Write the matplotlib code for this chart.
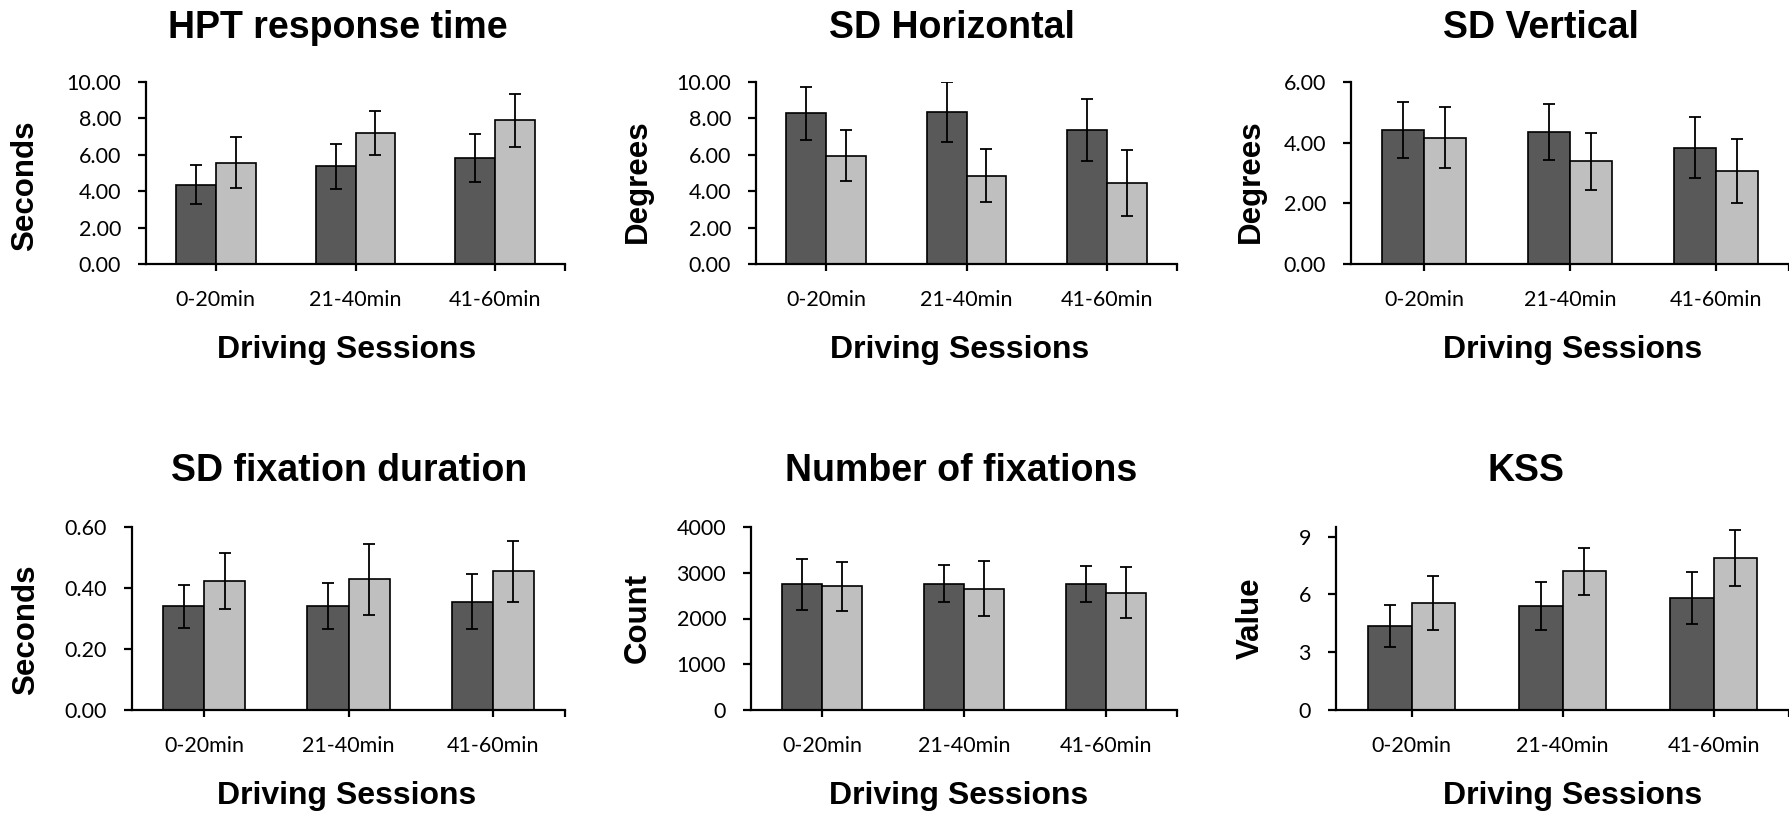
import matplotlib
matplotlib.use("Agg")
import matplotlib.pyplot as plt
from matplotlib.ticker import FixedLocator, FormatStrFormatter

# -----------------------------
# Data
# -----------------------------
sessions = ["0-20min", "21-40min", "41-60min"]

hpt_dark = [4.36, 5.38, 5.82]
hpt_dark_err = [1.07, 1.24, 1.34]
hpt_light = [5.57, 7.19, 7.89]
hpt_light_err = [1.40, 1.21, 1.46]

sdh_dark = [8.29, 8.36, 7.36]
sdh_dark_err = [1.45, 1.63, 1.69]
sdh_light = [5.96, 4.85, 4.45]
sdh_light_err = [1.40, 1.45, 1.81]

sdv_dark = [4.41, 4.35, 3.84]
sdv_dark_err = [0.93, 0.93, 1.02]
sdv_light = [4.17, 3.38, 3.07]
sdv_light_err = [0.99, 0.94, 1.06]

fix_dark = [0.340, 0.341, 0.355]
fix_dark_err = [0.071, 0.074, 0.091]
fix_light = [0.423, 0.429, 0.455]
fix_light_err = [0.091, 0.116, 0.100]

nfix_dark = [2750, 2765, 2750]
nfix_dark_err = [555, 415, 400]
nfix_light = [2705, 2655, 2565]
nfix_light_err = [540, 605, 555]

kss_dark = [4.36, 5.38, 5.82]
kss_dark_err = [1.07, 1.24, 1.34]
kss_light = [5.57, 7.19, 7.89]
kss_light_err = [1.40, 1.21, 1.46]

DARK = "#595959"
LIGHT = "#bfbfbf"
TITLE_FONT = "Liberation Sans"
TICK_FONT = "Lato"

W, H = 1789, 815
fig = plt.figure(figsize=(W / 100, H / 100), dpi=100)


def px_axes(left, top, right, bottom):
    return fig.add_axes([left / W, (H - bottom) / H, (right - left) / W, (bottom - top) / H])


def panel(box, dark, dark_err, light, light_err, yticks, ymax, fmt,
          title, title_xy, ylabel, ylabel_xy, xlabel_xy):
    ax = px_axes(*box)
    x = list(range(len(sessions)))
    bw = 0.285
    ax.bar([i - bw / 2 for i in x], dark, width=bw, color=DARK,
           edgecolor="black", linewidth=1.2, zorder=2)
    ax.bar([i + bw / 2 for i in x], light, width=bw, color=LIGHT,
           edgecolor="black", linewidth=1.2, zorder=2)
    ax.errorbar([i - bw / 2 for i in x], dark, yerr=dark_err, fmt="none",
                ecolor="black", elinewidth=1.3, capsize=4.5, capthick=1.3, zorder=3)
    ax.errorbar([i + bw / 2 for i in x], light, yerr=light_err, fmt="none",
                ecolor="black", elinewidth=1.3, capsize=4.5, capthick=1.3, zorder=3)

    ax.set_xlim(-0.5, 2.5)
    ax.set_ylim(0, ymax)
    ax.set_xticks(x)
    ax.set_xticklabels(sessions, fontfamily=TICK_FONT, fontsize=15.5)
    ax.xaxis.set_minor_locator(FixedLocator([2.5]))
    ax.set_yticks(yticks)
    ax.yaxis.set_major_formatter(FormatStrFormatter(fmt))
    for lab in ax.get_yticklabels():
        lab.set_fontfamily(TICK_FONT)
        lab.set_fontsize(15.5)

    for s in ["top", "right"]:
        ax.spines[s].set_visible(False)
    for s in ["left", "bottom"]:
        ax.spines[s].set_linewidth(1.6)
    ax.tick_params(axis="y", direction="out", length=6, width=1.6, pad=12)
    ax.tick_params(axis="x", which="both", direction="out", length=5, width=1.6, pad=14)

    fig.text(title_xy[0] / W, 1 - title_xy[1] / H, title, ha="center", va="center",
             fontfamily=TITLE_FONT, fontweight="bold", fontsize=27)
    fig.text(ylabel_xy[0] / W, 1 - ylabel_xy[1] / H, ylabel, ha="center", va="center",
             rotation=90, fontfamily=TITLE_FONT, fontweight="bold", fontsize=22.5)
    fig.text(xlabel_xy[0] / W, 1 - xlabel_xy[1] / H, "Driving Sessions", ha="center",
             va="center", fontfamily=TITLE_FONT, fontweight="bold", fontsize=23)
    return ax


# top row
panel((146, 82, 565, 264), hpt_dark, hpt_dark_err, hpt_light, hpt_light_err,
      [0, 2, 4, 6, 8, 10], 10, "%.2f", "HPT response time", (338, 28),
      "Seconds", (25, 186), (347, 350))
panel((756, 82, 1177, 264), sdh_dark, sdh_dark_err, sdh_light, sdh_light_err,
      [0, 2, 4, 6, 8, 10], 10, "%.2f", "SD Horizontal", (952, 28),
      "Degrees", (638, 181), (960, 350))
panel((1351, 82, 1789, 264), sdv_dark, sdv_dark_err, sdv_light, sdv_light_err,
      [0, 2, 4, 6], 6, "%.2f", "SD Vertical", (1541, 28),
      "Degrees", (1251, 181), (1573, 350))

# bottom row
panel((132, 527, 565, 710), fix_dark, fix_dark_err, fix_light, fix_light_err,
      [0, 0.2, 0.4, 0.6], 0.6, "%.2f", "SD fixation duration", (349, 471),
      "Seconds", (26, 630), (347, 796))
panel((751, 527, 1177, 710), nfix_dark, nfix_dark_err, nfix_light, nfix_light_err,
      [0, 1000, 2000, 3000, 4000], 4000, "%d", "Number of fixations", (961, 471),
      "Count", (638, 618), (959, 796))
panel((1336, 527, 1789, 710), kss_dark, kss_dark_err, kss_light, kss_light_err,
      [0, 3, 6, 9], 9.5, "%d", "KSS", (1526, 471),
      "Value", (1251, 618), (1573, 796))

fig.savefig("out.png", dpi=100, facecolor="white")
